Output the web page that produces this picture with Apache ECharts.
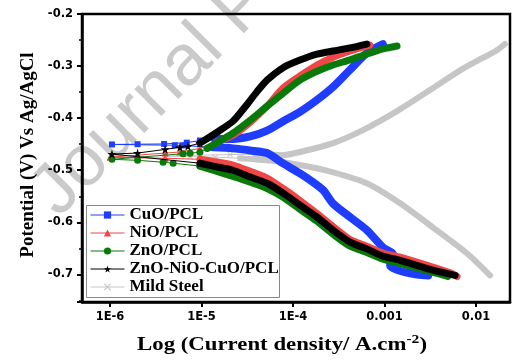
<!DOCTYPE html>
<html><head><meta charset="utf-8">
<script src="https://cdn.jsdelivr.net/npm/echarts/dist/echarts.min.js"></script>
<style>html,body{margin:0;padding:0;background:#fff}#c{width:528px;height:360px}</style>
</head><body><div id="c"></div>
<script>
// [current density (A/cm2), potential (V)]
const seriesNames = ['CuO/PCL', 'NiO/PCL', 'ZnO/PCL', 'ZnO-NiO-CuO/PCL', 'Mild Steel'];

const cuoCathodic = [[3.0e-3,-0.702],[1.9e-3,-0.698],[1.15e-3,-0.683],[1.24e-3,-0.662],[9.6e-4,-0.648],[6.4e-4,-0.615],[4.2e-4,-0.590],[2.74e-4,-0.564],[2.13e-4,-0.538],[1.66e-4,-0.523],[1.19e-4,-0.506],[7.8e-5,-0.487],[5.2e-5,-0.467],[3.4e-5,-0.462],[2.2e-5,-0.458],[1.34e-5,-0.456]];
const cuoEcorr = [[1.34e-5,-0.456],[6.3e-6,-0.4525],[5.1e-6,-0.452],[1.05e-6,-0.4505],[2.0e-6,-0.450],[3.9e-6,-0.4495],[6.9e-6,-0.447],[9.6e-6,-0.443],[1.4e-5,-0.440]];
const cuoAnodic = [[1.4e-5,-0.440],[2.2e-5,-0.440],[3.4e-5,-0.435],[5.2e-5,-0.424],[7.8e-5,-0.406],[1.19e-4,-0.388],[1.83e-4,-0.365],[2.74e-4,-0.340],[4.2e-4,-0.307],[6.4e-4,-0.275],[9.6e-4,-0.258]];

const nioCathodic = [[6.2e-3,-0.704],[5.2e-3,-0.697],[1.48e-3,-0.667],[9.6e-4,-0.659],[6.4e-4,-0.646],[4.2e-4,-0.633],[2.74e-4,-0.608],[1.83e-4,-0.583],[1.19e-4,-0.558],[7.8e-5,-0.535],[5.2e-5,-0.515],[3.4e-5,-0.502],[2.2e-5,-0.490],[1.34e-5,-0.483],[9.6e-6,-0.479]];
const nioEcorr = [[9.6e-6,-0.479],[4.0e-6,-0.477],[1.0e-6,-0.475],[2.0e-6,-0.471],[4.0e-6,-0.467],[5.8e-6,-0.465],[9.6e-6,-0.458],[1.48e-5,-0.446]];
const nioAnodic = [[1.48e-5,-0.446],[2.2e-5,-0.433],[3.4e-5,-0.408],[5.2e-5,-0.377],[7.8e-5,-0.342],[1.19e-4,-0.319],[1.83e-4,-0.298],[2.74e-4,-0.283],[4.2e-4,-0.271],[6.9e-4,-0.2596]];

const znoCathodic = [[4.9e-3,-0.704],[3.39e-3,-0.696],[1.48e-3,-0.679],[9.6e-4,-0.671],[6.4e-4,-0.658],[4.2e-4,-0.646],[2.74e-4,-0.623],[1.83e-4,-0.598],[1.19e-4,-0.575],[7.8e-5,-0.552],[5.2e-5,-0.535],[3.4e-5,-0.523],[2.2e-5,-0.512],[1.34e-5,-0.500],[9.6e-6,-0.492]];
const znoEcorr = [[9.6e-6,-0.492],[4.9e-6,-0.4865],[3.8e-6,-0.4846],[2.0e-6,-0.481],[1.05e-6,-0.479],[6.3e-6,-0.4683],[7.5e-6,-0.4673],[9.6e-6,-0.4654],[1.15e-5,-0.458]];
const znoAnodic = [[1.15e-5,-0.458],[1.48e-5,-0.447],[2.2e-5,-0.429],[3.4e-5,-0.404],[5.2e-5,-0.377],[7.8e-5,-0.352],[1.19e-4,-0.327],[1.83e-4,-0.310],[2.74e-4,-0.298],[4.2e-4,-0.288],[6.4e-4,-0.277],[9.6e-4,-0.267],[1.37e-3,-0.2615]];

const mixCathodic = [[5.9e-3,-0.702],[3.39e-3,-0.692],[1.48e-3,-0.673],[9.6e-4,-0.665],[6.4e-4,-0.651],[4.2e-4,-0.638],[2.74e-4,-0.615],[1.83e-4,-0.590],[1.19e-4,-0.567],[7.8e-5,-0.544],[5.2e-5,-0.525],[3.4e-5,-0.513],[2.2e-5,-0.500],[1.34e-5,-0.492],[9.6e-6,-0.4865]];
const mixEcorr = [[9.6e-6,-0.4865],[1.05e-6,-0.469],[2.0e-6,-0.467],[4.0e-6,-0.460],[5.8e-6,-0.456],[7.1e-6,-0.454],[9.6e-6,-0.448]];
const mixAnodic = [[9.6e-6,-0.448],[1.48e-5,-0.427],[2.2e-5,-0.406],[3.0e-5,-0.378],[4.0e-5,-0.350],[5.2e-5,-0.327],[7.8e-5,-0.303],[1.19e-4,-0.2885],[1.83e-4,-0.277],[2.74e-4,-0.271],[4.2e-4,-0.265],[6.4e-4,-0.2577]];

const steelCathodic = [[1.42e-2,-0.702],[8.0e-3,-0.660],[3.39e-3,-0.610],[1.48e-3,-0.5635],[6.4e-4,-0.525],[2.74e-4,-0.504],[1.19e-4,-0.490],[5.2e-5,-0.481],[2.64e-5,-0.477]];
const steelEcorr = [[2.64e-5,-0.477],[1.41e-5,-0.475],[7.5e-6,-0.474],[4.0e-6,-0.473],[9.6e-6,-0.471],[2.05e-5,-0.470],[3.85e-5,-0.469]];
const steelAnodic = [[3.85e-5,-0.469],[7.8e-5,-0.471],[1.19e-4,-0.465],[2.74e-4,-0.448],[5.8e-4,-0.423],[1.37e-3,-0.3865],[3.14e-3,-0.346],[7.2e-3,-0.305],[1.70e-2,-0.2692],[2.07e-2,-0.2577]];

const xTickValues = [1e-6, 1e-5, 1e-4, 1e-3, 1e-2];
const yTickValues = [-0.7, -0.6, -0.5, -0.4, -0.3, -0.2];

const STAR = 'path://M50,0 L61,35 L98,35 L68,57 L79,91 L50,70 L21,91 L32,57 L2,35 L39,35 Z';
const CROSS = 'path://M0,12 L12,0 L50,38 L88,0 L100,12 L62,50 L100,88 L88,100 L50,62 L12,100 L0,88 L38,50 Z';

function group(name, color, symbol, symSize, ecorr, cath, an, band, z) {
  return [
    { name, type: 'line', data: ecorr, z, symbol, symbolSize: symSize, showSymbol: true,
      itemStyle: { color }, lineStyle: { color, width: 1 }, silent: true },
    { name, type: 'line', data: cath, z, symbol, showSymbol: false, smooth: 0.25,
      itemStyle: { color }, lineStyle: { color, width: band, cap: 'round', join: 'round' }, silent: true },
    { name, type: 'line', data: an, z, symbol, showSymbol: false, smooth: 0.25,
      itemStyle: { color }, lineStyle: { color, width: band, cap: 'round', join: 'round' }, silent: true }
  ];
}

const series = [].concat(
  group('Mild Steel', '#c6c6c6', CROSS, 6, steelEcorr, steelCathodic, steelAnodic, 6, 2),
  group('CuO/PCL', '#1f3dff', 'rect', 6, cuoEcorr, cuoCathodic, cuoAnodic, 8, 3),
  group('NiO/PCL', '#f04646', 'triangle', 7, nioEcorr, nioCathodic, nioAnodic, 7, 4),
  group('ZnO/PCL', '#097a09', 'circle', 7, znoEcorr, znoCathodic, znoAnodic, 7, 5),
  group('ZnO-NiO-CuO/PCL', '#000000', STAR, 9, mixEcorr, mixCathodic, mixAnodic, 7, 6)
);

const chart = echarts.init(document.getElementById('c'), null, { renderer: 'canvas' });
chart.setOption({
  animation: false,
  backgroundColor: '#fff',
  grid: { left: 82, right: 18, top: 14, bottom: 58, show: true, borderColor: '#000', borderWidth: 2.5, backgroundColor: 'transparent' },
  xAxis: {
    type: 'log', logBase: 10, min: 4.94e-7, max: 2.35e-2,
    axisLine: { show: true, lineStyle: { color: '#000', width: 2.5 } },
    axisTick: { show: true, length: 5, lineStyle: { color: '#000', width: 2 } },
    splitLine: { show: false },
    axisLabel: {
      showMinLabel: false, showMaxLabel: false, margin: 9,
      color: '#000', fontFamily: 'DejaVu Sans', fontWeight: 'bold', fontSize: 11.5,
      formatter: function (v) {
        const e = Math.round(Math.log10(v));
        if (xTickValues.map(t => Math.round(Math.log10(t))).indexOf(e) < 0) return '';
        return e >= -3 ? Math.pow(10, e).toFixed(-e) : '1E' + e;
      }
    }
  },
  yAxis: {
    type: 'value', min: -0.753, max: -0.2,
    axisLine: { show: true, lineStyle: { color: '#000', width: 2.5 } },
    axisTick: { show: true, length: 5, lineStyle: { color: '#000', width: 2 } },
    minorTick: { show: true, splitNumber: 2, length: 3, lineStyle: { color: '#000', width: 1.5 } },
    splitLine: { show: false },
    axisLabel: {
      showMinLabel: false, margin: 9,
      color: '#000', fontFamily: 'DejaVu Sans', fontWeight: 'bold', fontSize: 11.5,
      formatter: function (v) {
        const hit = yTickValues.find(t => Math.abs(t - v) < 1e-6);
        return hit === undefined ? '' : hit.toFixed(1);
      }
    }
  },
  legend: {
    orient: 'vertical', left: 90, top: 206, padding: 0, itemGap: 0,
    itemWidth: 34, itemHeight: 9, itemTextGap: 5,
    data: seriesNames,
    textStyle: { color: '#000', fontFamily: 'Liberation Serif', fontWeight: 'bold', fontSize: 17, lineHeight: 18 },
    lineStyle: { width: 1 },
    z: 10
  },
  graphic: [
    { type: 'text', x: 70, y: 230, rotation: Math.PI / 4, z: -10, silent: true,
      style: { text: 'Journal Pre-proof', font: '72px "Liberation Sans"', fill: '#cacaca', align: 'left', verticalAlign: 'bottom' } },
    { type: 'rect', z: 8, silent: true, shape: { x: 86.5, y: 205.5, width: 193, height: 92 },
      style: { fill: '#fff', stroke: '#888', lineWidth: 1 } },
    { type: 'text', x: 28, y: 155, rotation: Math.PI / 2, silent: true,
      style: { text: 'Potential (V) Vs Ag/AgCl', font: 'bold 19px "Liberation Serif"', fill: '#000', align: 'center', verticalAlign: 'middle' } },
    { type: 'text', x: 282, y: 343, scaleX: 1.2, silent: true,
      style: { text: '{a|Log (Current density/ A.cm}{s|-2}{a|)}', align: 'center', verticalAlign: 'middle', fill: '#000',
        rich: {
          a: { fontFamily: 'Liberation Serif', fontWeight: 'bold', fontSize: 19, lineHeight: 24, verticalAlign: 'bottom' },
          s: { fontFamily: 'Liberation Serif', fontWeight: 'bold', fontSize: 13, lineHeight: 24, verticalAlign: 'bottom', padding: [0, 0, 9, 0] }
        } } }
  ],
  series
});
</script></body></html>
